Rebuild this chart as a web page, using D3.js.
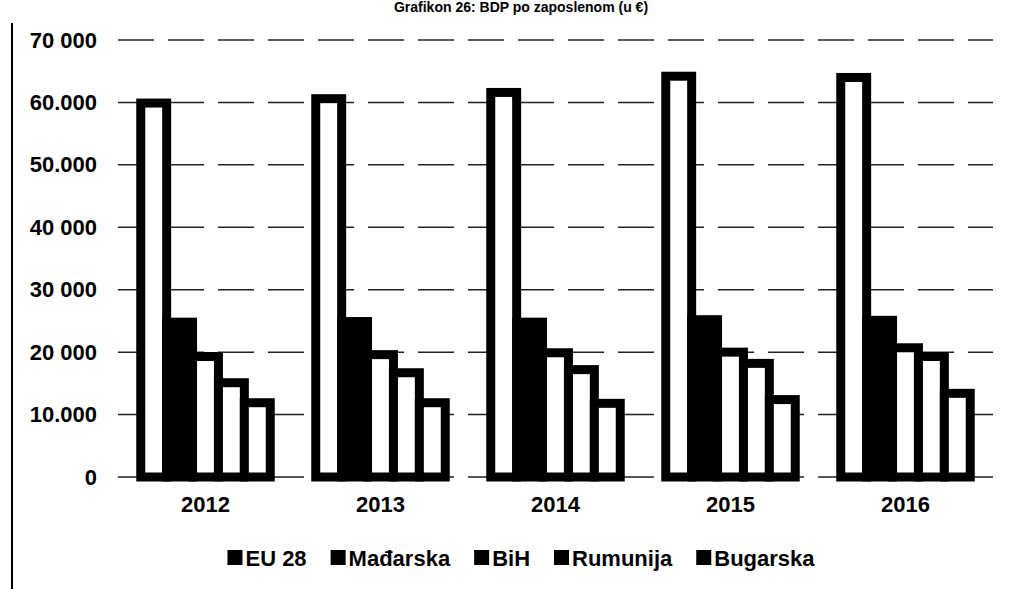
<!DOCTYPE html>
<html>
<head>
<meta charset="utf-8">
<script src="https://cdn.jsdelivr.net/npm/d3@7/dist/d3.min.js"></script>
<style>
    body { margin: 0; background: #fff; }
    svg { display: block; }
    text { font-family: "Liberation Sans", Arial, sans-serif; font-weight: bold; fill: #000; }
</style>
</head>
<body>
<div class="chartDiv"></div>
<script>
"use strict";

// Data (BDP po zaposlenom, u EUR):
var years = ["2012", "2013", "2014", "2015", "2016"];
var countries = ["EU 28", "Mađarska", "BiH", "Rumunija", "Bugarska"];

var eu28     = [59900, 60600, 61600, 64200, 64000];
var madarska = [24800, 24900, 24800, 25200, 25100];
var bih      = [19300, 19600, 19900, 20000, 20700];
var rumunija = [15100, 16700, 17200, 18200, 19300];
var bugarska = [11900, 11900, 11800, 12400, 13400];

var tickValues = [0, 10000, 20000, 30000, 40000, 50000, 60000, 70000];
var tickLabels = ["0", "10.000", "20 000", "30 000", "40 000", "50.000", "60.000", "70 000"];

var titleText = "Grafikon 26: BDP po zaposlenom (u €)";

// SVG Properties:
var width = 1010;
var height = 589;
var plot = { left: 118, right: 993, top: 40, bottom: 477 };

var series = [eu28, madarska, bih, rumunija, bugarska];
var fills = ["#fff", "#000", "#fff", "#fff", "#fff"];

var svg = d3.select(".chartDiv").append("svg")
            .attr("width", width)
            .attr("height", height);

// Scales:
var x0 = d3.scaleBand()
            .domain(years)
            .range([plot.left, plot.right])
            .paddingInner(0.26)
            .paddingOuter(0.13);

var x1 = d3.scaleBand()
            .domain(countries)
            .range([0, x0.bandwidth()]);

var y = d3.scaleLinear()
            .domain([0, 70000])
            .range([plot.bottom, plot.top]);

// Title (sits right at the top edge in the scan)
svg.append("text")
    .attr("x", 521)
    .attr("y", 12)
    .attr("text-anchor", "middle")
    .style("font-size", "14px")
    .text(titleText);

// Left frame line
svg.append("line")
    .attr("x1", 12).attr("x2", 12)
    .attr("y1", 23).attr("y2", height)
    .attr("stroke", "#000")
    .attr("stroke-width", 2);

// Gridlines
svg.append("g")
    .attr("class", "grid")
    .selectAll("line")
    .data(tickValues).enter()
    .append("line")
    .attr("x1", plot.left)
    .attr("x2", plot.right)
    .attr("y1", function(d) { return y(d); })
    .attr("y2", function(d) { return y(d); })
    .attr("stroke", "#222")
    .attr("stroke-width", 1.5)
    .attr("stroke-dasharray", "36,14");

// Y axis
var yAxis = d3.axisLeft(y)
            .tickValues(tickValues)
            .tickSize(0)
            .tickPadding(0)
            .tickFormat(function(d, i) { return tickLabels[i]; });

var yG = svg.append("g")
            .attr("transform", "translate(97,0)")
            .call(yAxis);
yG.select(".domain").remove();
yG.selectAll("text")
    .style("font-size", "22px")
    .style("font-family", "'Liberation Sans', Arial, sans-serif")
    .attr("fill", "#000");

// X axis
var xAxis = d3.axisBottom(x0).tickSize(0).tickPadding(0);
var xG = svg.append("g")
            .attr("transform", "translate(0,496)")
            .call(xAxis);
xG.select(".domain").remove();
xG.selectAll("text")
    .style("font-size", "22px")
    .style("font-family", "'Liberation Sans', Arial, sans-serif")
    .attr("fill", "#000");

// Bars
var groups = svg.selectAll(".year")
            .data(years).enter()
            .append("g")
            .attr("class", "year")
            .attr("transform", function(d) { return "translate(" + x0(d) + ",0)"; });

groups.selectAll("rect")
    .data(function(d, i) {
        return countries.map(function(c, j) { return { country: c, value: series[j][i], idx: j }; });
    }).enter()
    .append("rect")
    .attr("x", function(d) { return x1(d.country); })
    .attr("y", function(d) { return y(d.value); })
    .attr("width", x1.bandwidth())
    .attr("height", function(d) { return y(0) - y(d.value); })
    .attr("fill", function(d) { return fills[d.idx]; })
    .attr("stroke", "#000")
    .attr("stroke-width", 9)
    .attr("stroke-linejoin", "miter");

// Legend
var legend = svg.append("g").attr("class", "legend");
var legendY = 558;
var items = legend.selectAll("g")
            .data(countries).enter()
            .append("g");

items.append("rect")
    .attr("width", 15)
    .attr("height", 15)
    .attr("y", legendY - 8)
    .attr("fill", "#000");

items.append("text")
    .attr("x", 18)
    .attr("y", legendY)
    .attr("dy", "0.35em")
    .style("font-size", "22px")
    .text(function(d) { return d; });

var xPos = 0;
items.each(function() {
    var g = d3.select(this);
    g.attr("transform", "translate(" + xPos + ",0)");
    xPos += 18 + g.select("text").node().getComputedTextLength() + 24;
});
var legendWidth = xPos - 24;
legend.attr("transform", "translate(" + (521 - legendWidth / 2) + ",0)");
</script>
</body>
</html>
